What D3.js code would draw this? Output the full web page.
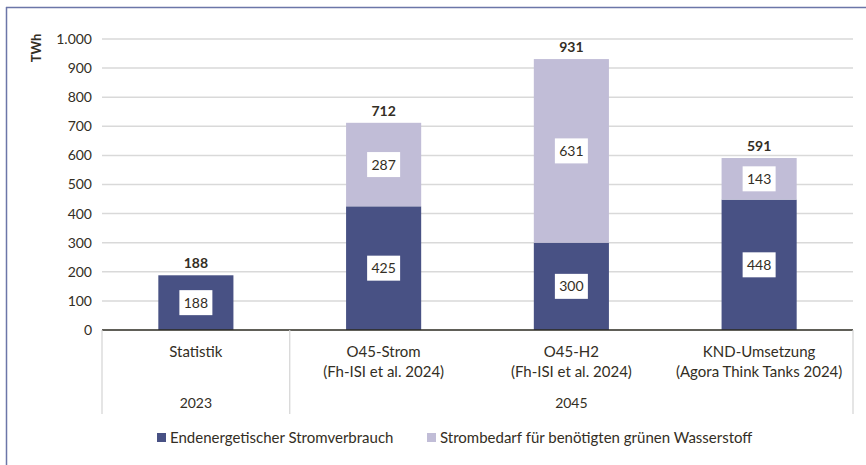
<!DOCTYPE html>
<html>
<head>
<meta charset="utf-8">
<script src="https://cdn.jsdelivr.net/npm/d3@7"></script>
<style>
  body { margin: 0; background: #fff; }
  text { font-family: Lato, "Open Sans", sans-serif; fill: #332e24; }
</style>
</head>
<body>
<script>
// data
var categories = ['Statistik', 'O45-Strom', 'O45-H2', 'KND-Umsetzung'];
var subLabels = ['', '(Fh-ISI et al. 2024)', '(Fh-ISI et al. 2024)', '(Agora Think Tanks 2024)'];
var years = [{ label: '2023', from: 0, to: 1 }, { label: '2045', from: 1, to: 4 }];
var stromverbrauch = [188, 425, 300, 448];
var wasserstoff = [0, 287, 631, 143];
var totals = [188, 712, 931, 591];
var yTicks = [0, 100, 200, 300, 400, 500, 600, 700, 800, 900, 1000];
var seriesNames = ['Endenergetischer Stromverbrauch', 'Strombedarf für benötigten grünen Wasserstoff'];
var colors = ['#485184', '#c1bdd7'];

var W = 866, H = 465;
var pLeft = 102, pRight = 853, pTop = 39, pBottom = 330;

var svg = d3.select('body').append('svg').attr('width', W).attr('height', H);

// frame lines (left + top)
svg.append('line').attr('x1', 6.5).attr('y1', 7).attr('x2', 6.5).attr('y2', H).style('stroke', '#6b76a8').style('stroke-width', 1.5);
svg.append('line').attr('x1', 6).attr('y1', 7.5).attr('x2', W).attr('y2', 7.5).style('stroke', '#6b76a8').style('stroke-width', 1.5);

var x = d3.scaleBand().domain(d3.range(categories.length)).range([pLeft, pRight]).paddingInner(0).paddingOuter(0);
var y = d3.scaleLinear().domain([0, 1000]).range([pBottom, pTop]);
var barW = x.bandwidth() * 0.4;

/* grid */
svg.append('g').selectAll('line').data(yTicks.slice(1)).enter().append('line')
  .attr('x1', pLeft).attr('x2', pRight).attr('y1', function(d){ return y(d); }).attr('y2', function(d){ return y(d); })
  .style('stroke', '#d9d9d9').style('stroke-width', 1.5);

/* y axis labels */
var fmt = d3.formatLocale({ decimal: ',', thousands: '.', grouping: [3], currency: ['', ''] }).format(',');
var yAxis = d3.axisLeft(y).tickValues(yTicks).tickSize(0).tickPadding(10).tickFormat(fmt);
var ya = svg.append('g').attr('transform', 'translate(' + pLeft + ',0)').call(yAxis);
ya.select('.domain').remove();
ya.selectAll('text').style('font-size', '14px').style('font-family', 'Lato, sans-serif').attr('fill', '#332e24');

svg.append('text').attr('transform', 'translate(41,48) rotate(-90)').attr('text-anchor', 'middle')
  .style('font-size', '13px').style('font-weight', 'bold').text('TWh');

/* stacked bars */
var stack = d3.stack().keys([0, 1]).value(function(d, k){ return k === 0 ? stromverbrauch[d] : wasserstoff[d]; });
var layers = stack(d3.range(categories.length));
layers.forEach(function(layer, k){
  var g = svg.append('g');
  g.selectAll('rect').data(layer).enter().append('rect')
    .attr('x', function(d, i){ return x(i) + (x.bandwidth() - barW) / 2; })
    .attr('y', function(d){ return y(d[1]); })
    .attr('width', barW)
    .attr('height', function(d){ return y(d[0]) - y(d[1]); })
    .attr('fill', colors[k]);
  // value boxes
  layer.forEach(function(d, i){
    var v = d[1] - d[0];
    if (v <= 0) return;
    var cx = x(i) + x.bandwidth() / 2, cy = (y(d[0]) + y(d[1])) / 2;
    g.append('rect').attr('x', cx - 16.5).attr('y', cy - 12.5).attr('width', 33).attr('height', 25).attr('fill', '#fff');
    g.append('text').attr('x', cx).attr('y', cy + 5).attr('text-anchor', 'middle').style('font-size', '14px').text(v);
  });
});

/* totals */
svg.append('g').selectAll('text').data(totals).enter().append('text')
  .attr('x', function(d, i){ return x(i) + x.bandwidth() / 2; })
  .attr('y', function(d){ return y(d) - 7; })
  .attr('text-anchor', 'middle').style('font-size', '14px').style('font-weight', 'bold')
  .text(function(d){ return d; });

/* baseline */
svg.append('line').attr('x1', pLeft).attr('x2', pRight).attr('y1', y(0)).attr('y2', y(0)).style('stroke', '#2b2a20').style('stroke-width', 1.5);

/* separators below axis */
[0, 1, 4].forEach(function(i){
  var xx = i < categories.length ? x(i) : pRight;
  svg.append('line').attr('x1', xx).attr('x2', xx).attr('y1', y(0)).attr('y2', 414).style('stroke', '#d4d4d4').style('stroke-width', 1.2);
});

/* category labels */
categories.forEach(function(c, i){
  var cx = x(i) + x.bandwidth() / 2;
  svg.append('text').attr('x', cx).attr('y', 357).attr('text-anchor', 'middle').style('font-size', '15px').text(c);
  if (subLabels[i]) svg.append('text').attr('x', cx).attr('y', 377).attr('text-anchor', 'middle').style('font-size', '15px').text(subLabels[i]);
});
years.forEach(function(yr){
  var cx = (x(yr.from) + (yr.to < categories.length ? x(yr.to) : pRight)) / 2;
  svg.append('text').attr('x', cx).attr('y', 408).attr('text-anchor', 'middle').style('font-size', '14px').text(yr.label);
});

/* legend */
var legX = [157, 427];
seriesNames.forEach(function(n, k){
  svg.append('rect').attr('x', legX[k]).attr('y', 433).attr('width', 9).attr('height', 9).attr('fill', colors[k]);
  svg.append('text').attr('x', legX[k] + 13).attr('y', 443).style('font-size', '15px').text(n);
});
</script>
</body>
</html>
